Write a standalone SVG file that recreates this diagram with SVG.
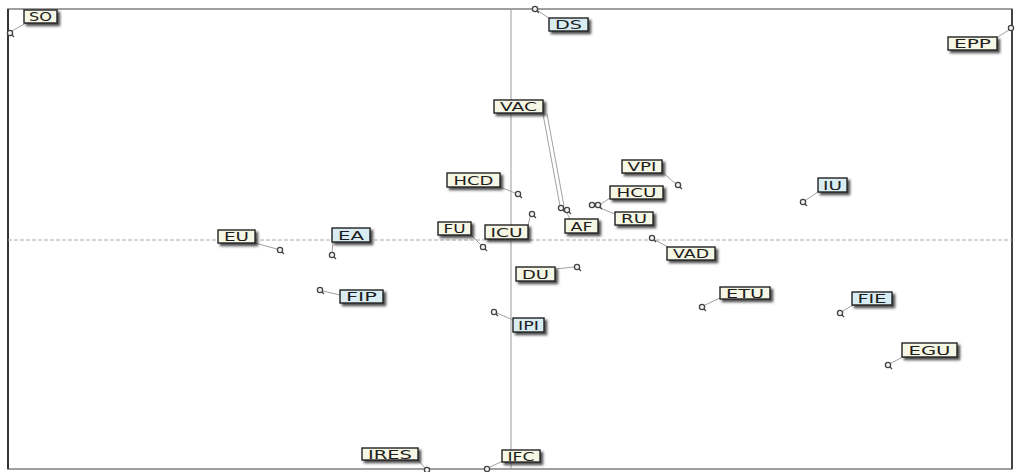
<svg xmlns="http://www.w3.org/2000/svg" width="1020" height="472" viewBox="0 0 1020 472">
<style>
.bx{stroke:#222;stroke-width:1.4;filter:url(#sh)}
.c{fill:#f6f6e4}
.b{fill:#d8ecf2}
.t{font-family:"DejaVu Sans","Liberation Sans",sans-serif;font-size:12px;fill:#1e1e1e;text-anchor:middle}
.pt{fill:#f4f4f4;stroke:#444;stroke-width:1.3}
.tl{stroke:#444;stroke-width:1.3}
.ld{stroke:#a0a0a0;stroke-width:1;fill:none}
</style>
<defs>
<filter id="sh" x="-30%" y="-40%" width="160%" height="200%">
<feDropShadow dx="2.5" dy="2.5" stdDeviation="1" flood-color="#333" flood-opacity="0.85"/>
</filter>
</defs>
<rect width="1020" height="472" fill="#fff"/>
<g id="frame">
<rect x="8" y="9" width="1004" height="460" fill="none" stroke="#808080" stroke-width="1.5"/>
<line x1="8" y1="9" x2="8" y2="469" stroke="#333" stroke-width="2"/>
<line x1="1012" y1="9" x2="1012" y2="469" stroke="#444" stroke-width="2"/>
<line x1="511" y1="9" x2="511" y2="469" stroke="#999" stroke-width="1"/>
<line x1="8" y1="240" x2="1012" y2="240" stroke="#aaa" stroke-width="1" stroke-dasharray="4 2"/>
</g>
<g id="connectors">
<line class="ld" x1="12" y1="31" x2="26" y2="23"/>
<line class="ld" x1="537" y1="10" x2="550" y2="19"/>
<line class="ld" x1="1009" y1="30" x2="996" y2="38"/>
<line class="ld" x1="543" y1="114" x2="560" y2="206"/>
<line class="ld" x1="547" y1="114" x2="564" y2="206"/>
<line class="ld" x1="567" y1="213" x2="570" y2="219"/>
<line class="ld" x1="500" y1="187" x2="515" y2="193"/>
<line class="ld" x1="471" y1="235" x2="481" y2="245"/>
<line class="ld" x1="528" y1="226" x2="530" y2="217"/>
<line class="ld" x1="255" y1="243" x2="277" y2="249"/>
<line class="ld" x1="333" y1="242" x2="332" y2="252"/>
<line class="ld" x1="323" y1="291" x2="340" y2="295"/>
<line class="ld" x1="497" y1="313" x2="513" y2="320"/>
<line class="ld" x1="555" y1="269" x2="574" y2="267"/>
<line class="ld" x1="662" y1="172" x2="675" y2="183"/>
<line class="ld" x1="601" y1="204" x2="610" y2="198"/>
<line class="ld" x1="595" y1="206" x2="615" y2="214"/>
<line class="ld" x1="655" y1="240" x2="668" y2="247"/>
<line class="ld" x1="705" y1="305" x2="720" y2="298"/>
<line class="ld" x1="806" y1="200" x2="818" y2="192"/>
<line class="ld" x1="843" y1="311" x2="853" y2="305"/>
<line class="ld" x1="891" y1="363" x2="903" y2="357"/>
<line class="ld" x1="418" y1="460" x2="425" y2="468"/>
<line class="ld" x1="490" y1="467" x2="503" y2="461"/>
</g>
<g id="SO"><rect class="bx c" x="24" y="10" width="33" height="13"/><text class="t" x="40.5" y="21" textLength="23" lengthAdjust="spacingAndGlyphs">SO</text><circle class="pt" cx="10" cy="33" r="2.6"/><line class="tl" x1="12" y1="35" x2="14" y2="37"/></g>
<g id="DS"><rect class="bx b" x="549" y="18" width="39" height="13"/><text class="t" x="568.5" y="29" textLength="27" lengthAdjust="spacingAndGlyphs">DS</text><circle class="pt" cx="535" cy="9" r="2.6"/><line class="tl" x1="537" y1="11" x2="539" y2="13"/></g>
<g id="EPP"><rect class="bx c" x="948" y="37" width="49" height="13"/><text class="t" x="972.5" y="48" textLength="37" lengthAdjust="spacingAndGlyphs">EPP</text><circle class="pt" cx="1011" cy="28" r="2.6"/></g>
<g id="VAC"><rect class="bx c" x="494" y="100" width="49" height="13"/><text class="t" x="518.5" y="111" textLength="37" lengthAdjust="spacingAndGlyphs">VAC</text><circle class="pt" cx="561" cy="208" r="2.6"/><line class="tl" x1="563" y1="210" x2="565" y2="212"/></g>
<g id="AF"><rect class="bx c" x="565" y="219" width="33" height="14"/><text class="t" x="581.5" y="230.5" textLength="22" lengthAdjust="spacingAndGlyphs">AF</text><circle class="pt" cx="567" cy="210" r="2.6"/><line class="tl" x1="569" y1="212" x2="571" y2="214"/></g>
<g id="HCD"><rect class="bx c" x="447" y="173" width="53" height="14"/><text class="t" x="473.5" y="184.5" textLength="40" lengthAdjust="spacingAndGlyphs">HCD</text><circle class="pt" cx="518" cy="194" r="2.6"/><line class="tl" x1="520" y1="196" x2="522" y2="198"/></g>
<g id="FU"><rect class="bx c" x="438" y="222" width="33" height="13"/><text class="t" x="454.5" y="233" textLength="22" lengthAdjust="spacingAndGlyphs">FU</text><circle class="pt" cx="483" cy="247" r="2.6"/><line class="tl" x1="485" y1="249" x2="487" y2="251"/></g>
<g id="ICU"><rect class="bx c" x="485" y="225" width="43" height="14"/><text class="t" x="506.5" y="236.5" textLength="32" lengthAdjust="spacingAndGlyphs">ICU</text><circle class="pt" cx="532" cy="214" r="2.6"/><line class="tl" x1="534" y1="216" x2="536" y2="218"/></g>
<g id="EU"><rect class="bx c" x="218" y="230" width="37" height="13"/><text class="t" x="236.5" y="241" textLength="25" lengthAdjust="spacingAndGlyphs">EU</text><circle class="pt" cx="280" cy="250" r="2.6"/><line class="tl" x1="282" y1="252" x2="284" y2="254"/></g>
<g id="EA"><rect class="bx b" x="332" y="228" width="38" height="14"/><text class="t" x="351" y="239.5" textLength="26" lengthAdjust="spacingAndGlyphs">EA</text><circle class="pt" cx="332" cy="255" r="2.6"/><line class="tl" x1="334" y1="257" x2="336" y2="259"/></g>
<g id="FIP"><rect class="bx b" x="340" y="290" width="43" height="13"/><text class="t" x="361.5" y="301" textLength="31" lengthAdjust="spacingAndGlyphs">FIP</text><circle class="pt" cx="320" cy="290" r="2.6"/><line class="tl" x1="322" y1="292" x2="324" y2="294"/></g>
<g id="IPI"><rect class="bx b" x="513" y="318" width="31" height="14"/><text class="t" x="528.5" y="329.5" textLength="21" lengthAdjust="spacingAndGlyphs">IPI</text><circle class="pt" cx="494" cy="312" r="2.6"/><line class="tl" x1="496" y1="314" x2="498" y2="316"/></g>
<g id="DU"><rect class="bx c" x="516" y="267" width="39" height="14"/><text class="t" x="535.5" y="278.5" textLength="27" lengthAdjust="spacingAndGlyphs">DU</text><circle class="pt" cx="577" cy="267" r="2.6"/><line class="tl" x1="579" y1="269" x2="581" y2="271"/></g>
<g id="VPI"><rect class="bx c" x="622" y="160" width="40" height="13"/><text class="t" x="642" y="171" textLength="29" lengthAdjust="spacingAndGlyphs">VPI</text><circle class="pt" cx="678" cy="185" r="2.6"/><line class="tl" x1="680" y1="187" x2="682" y2="189"/></g>
<g id="HCU"><rect class="bx c" x="610" y="186" width="53" height="13"/><text class="t" x="636.5" y="197" textLength="40" lengthAdjust="spacingAndGlyphs">HCU</text><circle class="pt" cx="598" cy="205" r="2.6"/><line class="tl" x1="600" y1="207" x2="602" y2="209"/></g>
<g id="RU"><rect class="bx c" x="615" y="212" width="38" height="13"/><text class="t" x="634" y="223" textLength="26" lengthAdjust="spacingAndGlyphs">RU</text><circle class="pt" cx="592" cy="205" r="2.6"/></g>
<g id="VAD"><rect class="bx c" x="667" y="247" width="48" height="13"/><text class="t" x="691" y="258" textLength="36" lengthAdjust="spacingAndGlyphs">VAD</text><circle class="pt" cx="652" cy="238" r="2.6"/><line class="tl" x1="654" y1="240" x2="656" y2="242"/></g>
<g id="ETU"><rect class="bx c" x="720" y="287" width="50" height="12"/><text class="t" x="745" y="297.5" textLength="38" lengthAdjust="spacingAndGlyphs">ETU</text><circle class="pt" cx="702" cy="307" r="2.6"/><line class="tl" x1="704" y1="309" x2="706" y2="311"/></g>
<g id="IU"><rect class="bx b" x="818" y="178" width="29" height="14"/><text class="t" x="832.5" y="189.5" textLength="19" lengthAdjust="spacingAndGlyphs">IU</text><circle class="pt" cx="803" cy="202" r="2.6"/><line class="tl" x1="805" y1="204" x2="807" y2="206"/></g>
<g id="FIE"><rect class="bx b" x="852" y="292" width="40" height="13"/><text class="t" x="872" y="303" textLength="29" lengthAdjust="spacingAndGlyphs">FIE</text><circle class="pt" cx="840" cy="313" r="2.6"/><line class="tl" x1="842" y1="315" x2="844" y2="317"/></g>
<g id="EGU"><rect class="bx c" x="902" y="343" width="55" height="14"/><text class="t" x="929.5" y="354.5" textLength="42" lengthAdjust="spacingAndGlyphs">EGU</text><circle class="pt" cx="888" cy="365" r="2.6"/><line class="tl" x1="890" y1="367" x2="892" y2="369"/></g>
<g id="IRES"><rect class="bx c" x="362" y="448" width="56" height="12"/><text class="t" x="390" y="458.5" textLength="44" lengthAdjust="spacingAndGlyphs">IRES</text><circle class="pt" cx="427" cy="470" r="2.6"/></g>
<g id="IFC"><rect class="bx c" x="502" y="450" width="38" height="12"/><text class="t" x="521" y="460.5" textLength="27" lengthAdjust="spacingAndGlyphs">IFC</text><circle class="pt" cx="487" cy="469" r="2.6"/></g>
</svg>
